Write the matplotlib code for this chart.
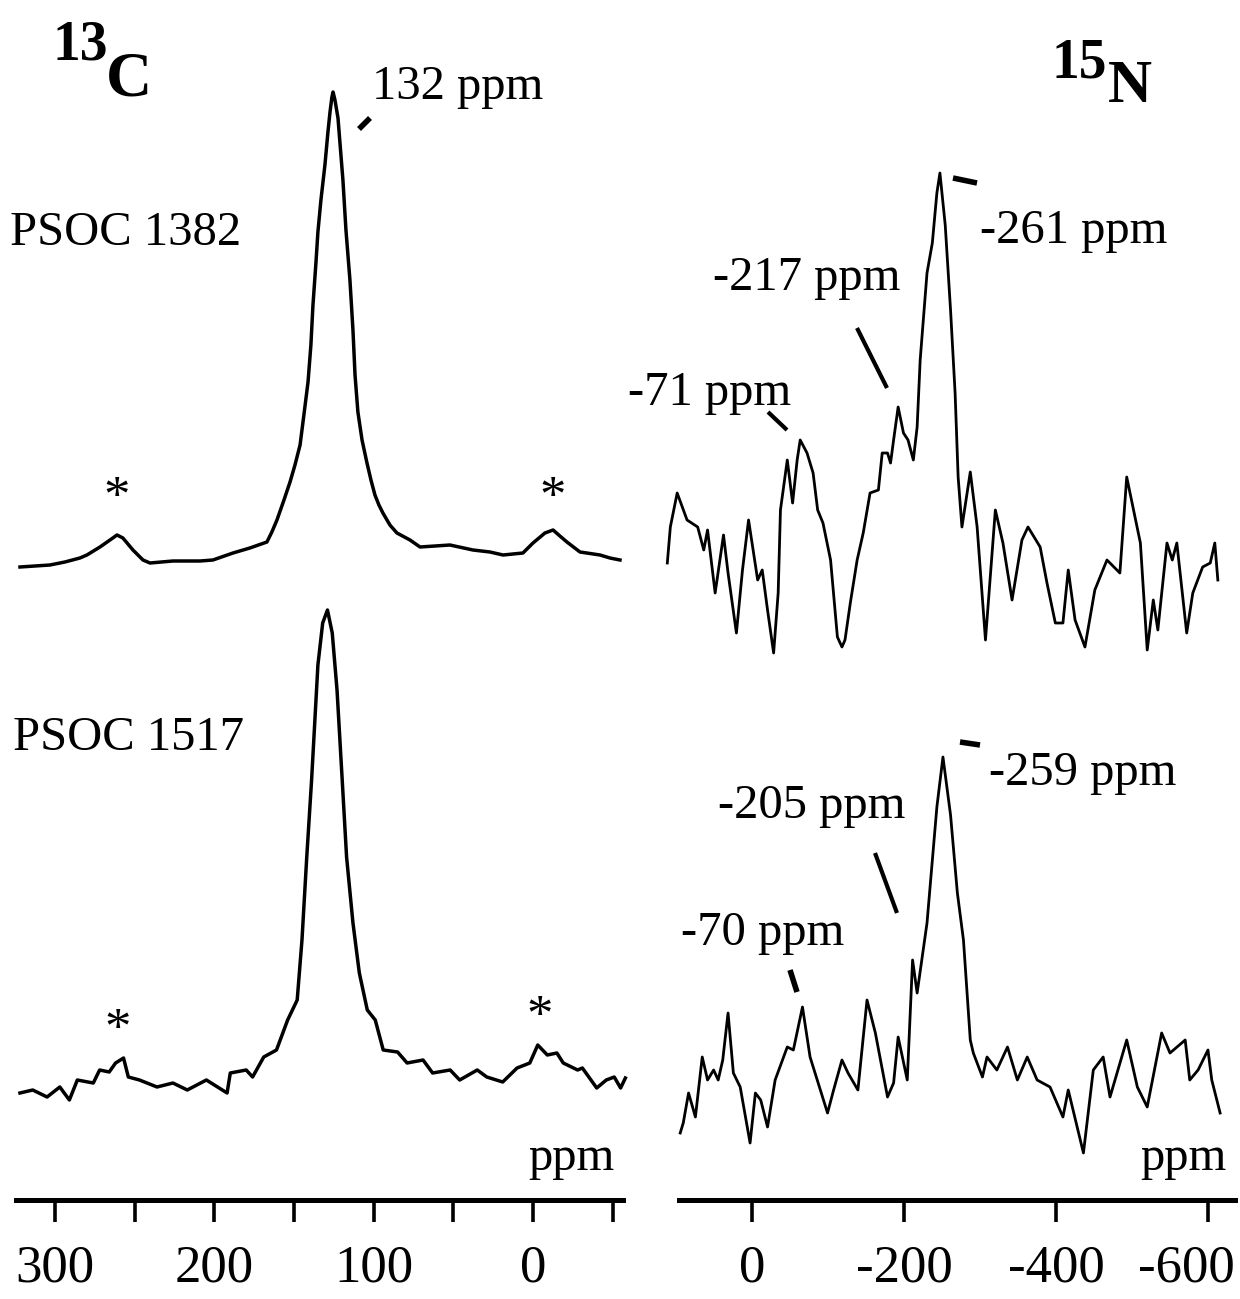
import matplotlib
matplotlib.use("Agg")
import matplotlib.pyplot as plt
import matplotlib.transforms as mtransforms
from matplotlib.lines import Line2D
import numpy as np

W, H = 1240, 1299

# 13C CP/MAS spectra: chemical shift (ppm) and intensity (arbitrary)
c13_ppm_1382 = [322.0, 312.6, 303.2, 293.8, 284.4, 280.0, 271.8, 265.5, 261.1, 257.4,
                251.1, 244.8, 240.4, 226.0, 209.0, 200.9, 188.3, 177.7, 167.0, 163.9,
                160.7, 156.3, 152.5, 149.4, 146.2, 143.8, 141.2, 139.4, 138.1, 136.2,
                135.0, 133.1, 130.6, 128.7, 127.4, 126.2, 125.5, 124.3, 122.4, 121.2,
                119.3, 117.4, 114.9, 113.0, 111.7, 109.9, 107.3, 104.2, 101.7, 99.2,
                96.7, 94.2, 89.8, 85.4, 77.2, 70.9, 61.5, 52.1, 37.7, 27.0,
                18.8, 6.3, 0.0, -7.5, -12.6, -16.9, -21.3, -29.5, -42.1, -48.3,
                -54.6]
c13_int_1382 = [0, 1, 2, 5, 9, 12, 20, 27, 32, 29,
                17, 7, 4, 6, 6, 7, 14, 19, 25, 35,
                47, 67, 85, 102, 122, 152, 185, 222, 262, 305,
                335, 367, 402, 435, 455, 470, 475, 467, 449, 425,
                387, 337, 287, 237, 192, 155, 127, 104, 87, 72,
                62, 54, 42, 34, 27, 20, 21, 22, 17, 15,
                12, 14, 24, 34, 37, 31, 25, 15, 12, 9,
                7]

c13_ppm_1517 = [322, 314, 305, 297, 291, 286, 276, 272, 266, 262,
                257, 254, 247, 236, 226, 217, 205, 192, 190, 180,
                176, 169, 161, 154, 148, 145, 142, 139, 137, 135,
                132, 129, 126, 123, 120, 117, 113, 109, 104, 99,
                94, 85, 79, 69, 63, 52, 46, 35, 29, 19,
                10, 2, -3, -9, -15, -19, -28, -31, -40, -46,
                -51, -55, -58]
c13_int_1517 = [7, 10, 3, 13, 0, 20, 17, 30, 28, 37,
                42, 23, 20, 13, 17, 10, 20, 7, 27, 30,
                23, 43, 50, 80, 100, 160, 243, 319, 377, 435,
                477, 490, 467, 410, 327, 243, 177, 127, 90, 80,
                50, 48, 37, 40, 27, 30, 20, 30, 23, 18,
                32, 37, 55, 45, 47, 37, 30, 32, 12, 20,
                23, 12, 22]

# 15N spectra
n15_ppm_1382 = [112, 108, 99, 86, 72, 64, 59, 49, 38, 32,
                21, 13, 5, -7, -13, -20, -28, -34, -37, -46,
                -53, -59, -63, -72, -80, -86, -93, -103, -112, -118,
                -122, -129, -138, -146, -155, -166, -171, -178, -182, -186,
                -192, -199, -205, -212, -217, -221, -230, -237, -243, -247,
                -254, -261, -267, -271, -276, -287, -296, -307, -320, -330,
                -342, -355, -363, -379, -388, -399, -409, -416, -425, -438,
                -451, -467, -484, -493, -511, -520, -528, -534, -546, -553,
                -559, -572, -580, -593, -603, -609, -613]
n15_int_1382 = [97, 133, 167, 140, 133, 110, 130, 67, 125, 87,
                27, 90, 140, 80, 90, 50, 7, 67, 150, 200,
                157, 200, 220, 207, 187, 150, 137, 100, 23, 13,
                20, 57, 100, 127, 167, 170, 207, 207, 197, 220,
                253, 227, 220, 200, 233, 300, 387, 417, 467, 487,
                435, 350, 267, 183, 133, 188, 133, 20, 150, 117,
                60, 120, 133, 113, 77, 37, 37, 90, 40, 13,
                70, 100, 87, 183, 117, 10, 60, 30, 117, 100,
                117, 27, 67, 93, 97, 117, 80]

n15_ppm_1517 = [95, 91, 84, 75, 66, 59, 51, 45, 39, 32,
                25, 16, 3, -4, -11, -20, -30, -46, -54, -66,
                -76, -99, -107, -118, -126, -139, -151, -162, -178, -186,
                -192, -204, -211, -217, -230, -243, -251, -261, -270, -278,
                -287, -291, -303, -309, -322, -336, -349, -362, -375, -392,
                -409, -416, -436, -449, -462, -471, -493, -507, -520, -539,
                -550, -570, -576, -587, -600, -605, -616]
n15_int_1517 = [27, 37, 67, 43, 103, 80, 90, 80, 100, 147,
                87, 73, 17, 67, 60, 33, 80, 113, 110, 153,
                103, 47, 70, 100, 87, 70, 160, 127, 63, 77,
                123, 80, 200, 167, 237, 353, 403, 345, 267, 220,
                120, 107, 83, 103, 90, 113, 80, 103, 80, 73,
                43, 70, 7, 90, 103, 63, 120, 73, 53, 127,
                107, 120, 80, 90, 110, 80, 47]

c13_ticks = [300, 250, 200, 150, 100, 50, 0, -50]
c13_ticklabels = ["300", "", "200", "", "100", "", "0", ""]
n15_ticks = [0, -200, -400, -600]
n15_ticklabels = ["0", "-200", "-400", "-600"]

sample_names = ["PSOC 1382", "PSOC 1517"]
c13_peak_label = "132 ppm"
n15_labels_1382 = ["-71 ppm", "-217 ppm", "-261 ppm"]
n15_labels_1517 = ["-70 ppm", "-205 ppm", "-259 ppm"]

plt.rcParams["font.family"] = ["Liberation Serif", "DejaVu Serif"]

fig = plt.figure(figsize=(W / 100, H / 100), dpi=100)


def make_axis(left_px, right_px, xlim, ticks, labels):
    ax = fig.add_axes([left_px / W, (H - 1200) / H, (right_px - left_px) / W, 1180 / H])
    ax.set_xlim(*xlim)
    ax.set_ylim(0, 1180)
    for side in ("top", "left", "right"):
        ax.spines[side].set_visible(False)
    ax.spines["bottom"].set_linewidth(3.6)
    ax.set_yticks([])
    ax.set_xticks(ticks)
    ax.set_xticklabels(labels)
    ax.tick_params(axis="x", direction="out", length=16, width=2.6,
                   labelsize=38, pad=16)
    ax.patch.set_visible(False)
    return ax


def label(x, y, s, size=35, **kw):
    fig.text(x / W, 1 - y / H, s, fontsize=size, ha="left", va="baseline", **kw)


def stroke(x0, y0, x1, y1, lw=3.0):
    fig.add_artist(Line2D([x0 / W, x1 / W], [1 - y0 / H, 1 - y1 / H],
                          color="black", lw=lw, solid_capstyle="butt"))


ax_c = make_axis(16, 623, (324.5, -56.5), c13_ticks, c13_ticklabels)
ax_n = make_axis(679, 1235, (96.6, -635.6), n15_ticks, n15_ticklabels)

# last 15N tick label sits against the page edge in the scan
last = ax_n.get_xticklabels()[-1]
last.set_transform(last.get_transform()
                   + mtransforms.ScaledTranslation(-0.22, 0, fig.dpi_scale_trans))

ax_c.plot(c13_ppm_1382, np.array(c13_int_1382) + 633, color="black", lw=2.5,
          clip_on=False, solid_joinstyle="round")
ax_c.plot(c13_ppm_1517, np.array(c13_int_1517) + 100, color="black", lw=2.5,
          clip_on=False, solid_joinstyle="round")
ax_n.plot(n15_ppm_1382, np.array(n15_int_1382) + 540, color="black", lw=2.0,
          clip_on=False)
ax_n.plot(n15_ppm_1517, np.array(n15_int_1517) + 40, color="black", lw=2.0,
          clip_on=False)

# nucleus titles
label(52, 60, "13", size=40, weight="bold")
label(106, 95, "C", size=46, weight="bold")
label(1052, 78, "15", size=40, weight="bold")
label(1108, 102, "N", size=44, weight="bold")

# sample names
label(10, 245, sample_names[0])
label(13, 750, sample_names[1])

# 13C peak label and spinning sidebands
label(372, 99, c13_peak_label)
stroke(359, 129, 370, 118, lw=4)
for x, y in [(117, 512), (553, 512), (118, 1044), (540, 1031)]:
    fig.text(x / W, 1 - y / H, "*", fontsize=38, ha="center", va="baseline")

# 15N labels, PSOC 1382
label(628, 405, n15_labels_1382[0])
stroke(768, 412, 787, 430)
label(713, 290, n15_labels_1382[1])
stroke(857, 328, 887, 388)
label(980, 243, n15_labels_1382[2])
stroke(953, 178, 977, 183, lw=4)

# 15N labels, PSOC 1517
label(681, 945, n15_labels_1517[0])
stroke(790, 970, 797, 992, lw=4)
label(718, 818, n15_labels_1517[1])
stroke(875, 853, 897, 913)
label(989, 785, n15_labels_1517[2])
stroke(960, 742, 980, 745, lw=4)

# axis unit labels
label(528, 1170, "ppm")
label(1140, 1170, "ppm")

fig.savefig("out.png", dpi=100)
